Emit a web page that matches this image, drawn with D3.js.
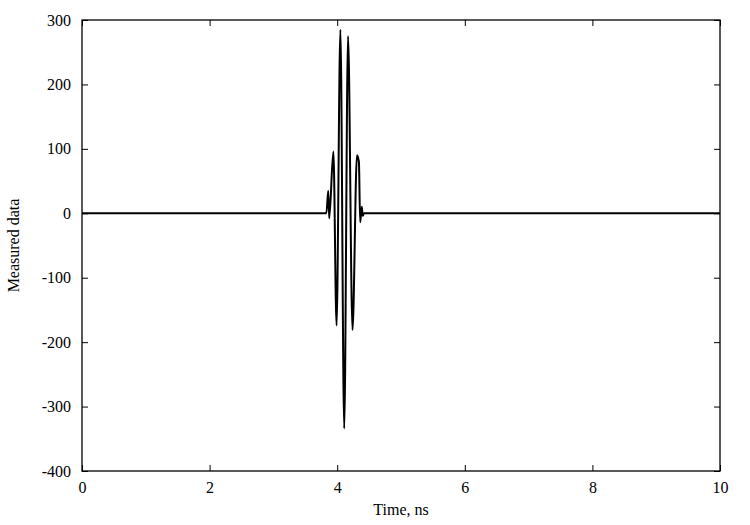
<!DOCTYPE html>
<html>
<head>
<meta charset="utf-8">
<script src="https://cdn.jsdelivr.net/npm/d3@7"></script>
<style>
  html, body { margin: 0; padding: 0; background: #fff; }
  svg { display: block; }
  text { font-family: "Liberation Serif", "DejaVu Serif", serif; fill: #000; }
</style>
</head>
<body>
<svg id="chart" width="750" height="525"></svg>
<script>
const timeNs = [0, 3.83, 3.86, 3.875, 3.94, 3.99, 4.05, 4.11, 4.17, 4.24, 4.31, 4.34, 4.36, 4.385, 4.40, 4.42, 10];
const measured = [0, 0, 35, -8, 96, -174, 285, -334, 275, -181, 90, 80, -14, 10, -4, 0, 0];
const xTicks = [0, 2, 4, 6, 8, 10];
const yTicks = [-400, -300, -200, -100, 0, 100, 200, 300];
const xLabel = "Time, ns";
const yLabel = "Measured data";

const svg = d3.select("#chart");
const m = { left: 82, right: 30, top: 20, bottom: 54 };
const W = 750, H = 525;
const x = d3.scaleLinear().domain([0, 10]).range([m.left, W - m.right]);
const y = d3.scaleLinear().domain([-400, 300]).range([H - m.bottom, m.top]);

const tickLen = 6;
const fmt = d => String(d);
function styleAxis(g) {
  g.select(".domain").remove();
  g.selectAll(".tick line").attr("stroke", "#000").attr("stroke-width", 1);
  g.selectAll(".tick text").style("font-size", "16px");
}

// bottom axis (inward ticks)
svg.append("g")
  .attr("transform", `translate(0,${y(-400)})`)
  .call(d3.axisBottom(x).tickValues(xTicks).tickFormat(fmt).tickSizeInner(-tickLen).tickSizeOuter(0).tickPadding(11))
  .call(styleAxis);
// top axis ticks
svg.append("g")
  .attr("transform", `translate(0,${y(300)})`)
  .call(d3.axisTop(x).tickValues(xTicks).tickFormat("").tickSizeInner(-tickLen).tickSizeOuter(0))
  .call(styleAxis);
// left axis
svg.append("g")
  .attr("transform", `translate(${x(0)},0)`)
  .call(d3.axisLeft(y).tickValues(yTicks).tickFormat(fmt).tickSizeInner(-tickLen).tickSizeOuter(0).tickPadding(11))
  .call(styleAxis);
// right axis ticks
svg.append("g")
  .attr("transform", `translate(${x(10)},0)`)
  .call(d3.axisRight(y).tickValues(yTicks).tickFormat("").tickSizeInner(-tickLen).tickSizeOuter(0))
  .call(styleAxis);

// frame
svg.append("rect")
  .attr("x", x(0)).attr("y", y(300))
  .attr("width", x(10) - x(0)).attr("height", y(-400) - y(300))
  .attr("fill", "none").attr("stroke", "#000").attr("stroke-width", 1.3);

// data line
const pts = timeNs.map((t, i) => [t, measured[i]]);
svg.append("path")
  .datum(pts)
  .attr("fill", "none")
  .attr("stroke", "#000")
  .attr("stroke-width", 2)
  .attr("stroke-linejoin", "round")
  .attr("d", d3.line().x(d => x(d[0])).y(d => y(d[1])).curve(d3.curveMonotoneX));

// axis labels
svg.append("text")
  .attr("x", (x(0) + x(10)) / 2).attr("y", 515)
  .attr("text-anchor", "middle").style("font-size", "16px")
  .text(xLabel);
svg.append("text")
  .attr("transform", `translate(19,${(y(300) + y(-400)) / 2}) rotate(-90)`)
  .attr("text-anchor", "middle").style("font-size", "16px")
  .text(yLabel);
</script>
</body>
</html>
